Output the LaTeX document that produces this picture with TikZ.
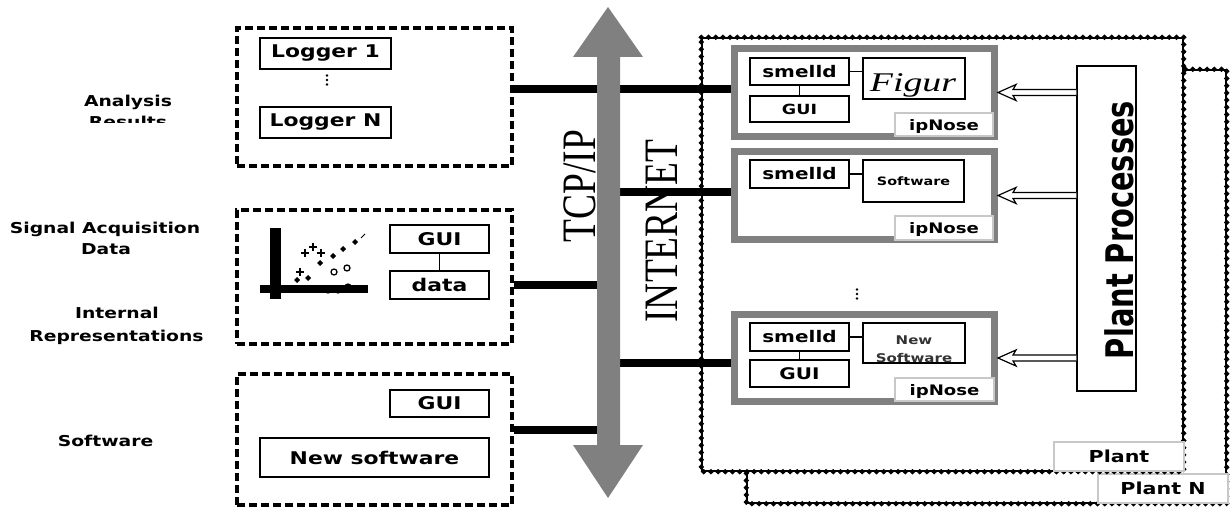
\documentclass[tikz,border=0pt]{standalone}
\usepackage{fontspec}
\usetikzlibrary{calc,decorations.markings}
\newfontfamily\lf[FakeStretch=1.25]{DejaVu Sans}
\newfontfamily\ppf[FakeStretch=0.76]{DejaVu Sans}
\newfontfamily\tnr[FakeStretch=0.78]{Liberation Serif}
\newfontfamily\figf[FakeStretch=1.4]{Liberation Serif}
\definecolor{ngrey}{RGB}{128,128,128}
\definecolor{lgrey}{RGB}{200,200,200}
\begin{document}
\begin{tikzpicture}[x=1pt,y=-1pt,
  lab/.style={font=\lf\bfseries\fontsize{15}{17}\selectfont, inner sep=0, anchor=base},
  group/.style={draw, line width=4pt, dash pattern=on 8pt off 4pt, inner sep=0},
  box/.style={draw, line width=1.2pt, inner sep=0, font=\lf\bfseries\fontsize{17.5}{20}\selectfont},
  sbox/.style={draw, line width=1.2pt, inner sep=0, font=\lf\bfseries\fontsize{16}{18}\selectfont},
  nose/.style={draw=ngrey, line width=7pt, fill=white, inner sep=0, minimum width=260pt},
  tag/.style={draw=lgrey, line width=1.5pt, fill=white, inner sep=0, text depth=0pt},
  plantbox/.style={draw=black, line width=1.4pt, fill=white, inner sep=0},
  beadline/.style={decorate, decoration={markings,
      mark=between positions 0 and 1 step 7.2pt with
      {\fill[black] (-3,0) -- (0,-2.8) -- (3,0) -- (0,2.8) -- cycle;}}},
  conn/.style={line width=8pt},
  feedshape/.style={draw=black, line width=1.2pt, fill=white, line join=miter},
  link/.style={line width=1.2pt},
  dotr/.style={radius=1.4pt}
]
\useasboundingbox (0,0) rectangle (1231,510);

% ---------- left labels ----------
\node[lab] (anl) at (128,106.5) {Analysis};
\begin{scope}
\clip (0,0) rectangle (230,123);
\node[lab] (res) at (128,127.5) {Results};
\end{scope}
\node[lab] (sig) at (105,234) {Signal Acquisition};
\node[lab] (dat) at (106,255) {Data};
\node[lab] (int) at (117,319) {Internal};
\node[lab] (rep) at (116.5,342) {Representations};
\node[lab] (sof) at (105.5,446) {Software};

% ---------- left groups ----------
\node[group, minimum width=275pt, minimum height=138pt] (b1) at (374.5,97) {};
\node[group, minimum width=275pt, minimum height=134pt] (b2) at (374.5,277) {};
\node[group, minimum width=275pt, minimum height=131pt] (b3) at (374.5,439.5) {};

\node[box, minimum width=131pt, minimum height=31pt] (lg1) at (325.5,53.5) {Logger 1};
\node[box, minimum width=131pt, minimum height=31pt] (lgN) at (325.5,122.5) {Logger N};
\coordinate (dl) at (327,80);
\foreach \d in {-4.5,0,4.5} \fill[dotr] ($(dl)+(0,\d)$) circle;

\node[box, minimum width=99pt, minimum height=28pt] (gui2) at (439.5,239) {GUI};
\node[box, minimum width=99pt, minimum height=28pt] (data2) at (439.5,285) {data};
\draw[link] (gui2) -- (data2);

% scatter plot
\fill (270,228) rectangle (281,299);
\fill (260,285) rectangle (368,293);
\foreach \p in {(305,253),(313,247),(321,253),(300,272)}
  \draw[line width=2pt] \p ++(-4,0) -- ++(8,0) \p ++(0,-4) -- ++(0,8);
\foreach \p in {(297,280),(308,278),(320,263),(333,256),(343,249),(355,242)}
  \fill \p ++(-3,0) -- ++(3,-3) -- ++(3,3) -- ++(-3,3) -- cycle;
\foreach \p in {(334,272),(347,268),(328,290),(338,290),(348,287)}
  \draw[line width=1.3pt] \p circle (3);
\draw[line width=1pt] (361,238) -- (365,234);

\node[box, minimum width=99pt, minimum height=27pt] (gui3) at (439.5,403.5) {GUI};
\node[box, minimum width=229pt, minimum height=39pt] (newsw) at (374.5,457.5) {New software};

% ---------- plants ----------
\node[plantbox, minimum width=479pt, minimum height=433pt] (plantN) at (986.5,286.5) {};
\path[beadline] (plantN.north west) -- (plantN.north east) -- (plantN.south east) -- (plantN.south west) -- cycle;
\node[tag, minimum width=130pt, minimum height=29pt, font=\lf\bfseries\fontsize{16.5}{18}\selectfont] (plantNl) at (1163,488.5) {Plant N};
\node[plantbox, minimum width=481pt, minimum height=433pt] (plant) at (942.5,254.5) {};
\path[beadline] (plant.north west) -- (plant.north east) -- (plant.south east) -- (plant.south west) -- cycle;
\node[tag, minimum width=130pt, minimum height=29pt, font=\lf\bfseries\fontsize{16.5}{18}\selectfont] (plantl) at (1119,456.5) {Plant};

\node[draw, line width=1.2pt, inner sep=0, minimum width=59pt, minimum height=325pt] (pp) at (1106.5,228.5) {};
\node[rotate=90, anchor=base, inner sep=0, font=\ppf\bfseries\fontsize{38}{40}\selectfont] (ppt) at (1133,230) {Plant Processes};

% ---------- ipNose 1 ----------
\node[nose, minimum height=88pt] (n1) at (864.5,92.5) {};
\node[sbox, minimum width=99pt, minimum height=27pt] (sm1) at (799.5,71.5) {smelld};
\node[sbox, minimum width=99pt, minimum height=26pt, font=\lf\bfseries\fontsize{14}{16}\selectfont] (g1) at (799.5,109) {GUI};
\node[draw, line width=1.2pt, inner sep=0, minimum width=102pt, minimum height=41pt] (fig1) at (914,78.5) {};
\node[inner sep=0, anchor=base, font=\figf\itshape\fontsize{27}{28}\selectfont] (figt) at (913,92) {Figur};
\node[tag, minimum width=98pt, minimum height=23pt, font=\lf\bfseries\fontsize{14.5}{16}\selectfont] (t1) at (944,124.5) {ipNose};
\draw[link] (sm1) -- (g1);
\draw[link] (sm1.east) -- (fig1.west |- sm1.east);

% ---------- ipNose 2 ----------
\node[nose, minimum height=88pt] (n2) at (864.5,195.5) {};
\node[sbox, minimum width=99pt, minimum height=28pt] (sm2) at (799.5,174) {smelld};
\node[draw, line width=1.2pt, inner sep=0, minimum width=101pt, minimum height=42pt, font=\lf\bfseries\fontsize{11.5}{13}\selectfont] (sw2) at (913.5,181) {Software};
\node[tag, minimum width=98pt, minimum height=24pt, font=\lf\bfseries\fontsize{14.5}{16}\selectfont] (t2) at (944,228) {ipNose};
\draw[link] (sm2.east) -- (sw2.west |- sm2.east);

\coordinate (dr) at (857,294);
\foreach \d in {-4.5,0,4.5} \fill[dotr] ($(dr)+(0,\d)$) circle;

% ---------- ipNose 3 ----------
\node[nose, minimum height=87pt] (n3) at (864.5,358) {};
\node[sbox, minimum width=99pt, minimum height=28pt] (sm3) at (799.5,337) {smelld};
\node[sbox, minimum width=99pt, minimum height=27pt] (g3) at (799.5,373.5) {GUI};
\node[draw, line width=1.2pt, inner sep=0, minimum width=102pt, minimum height=40pt] (nsw3) at (914,343) {};
\node[inner sep=0, anchor=north, align=center, font=\lf\bfseries\fontsize{12}{18}\selectfont, text=black!80] (nsw3t) at (914,336) {New\\Software};
\node[tag, minimum width=99pt, minimum height=23pt, font=\lf\bfseries\fontsize{14.5}{16}\selectfont] (t3) at (944.5,389.5) {ipNose};
\draw[link] (sm3) -- (g3);
\draw[link] (sm3.east) -- (nsw3.west |- sm3.east);

% ---------- feeds from plant processes (hollow arrows) ----------
\foreach \n in {n1,n2,n3} {
  \draw[feedshape] (pp.west |- \n.east) ++(0,-3) -- ($(\n.east)+(15,-3)$)
    -- ($(\n.east)+(18,-8)$) -- (\n.east) -- ($(\n.east)+(18,8)$)
    -- ($(\n.east)+(15,3)$) -- ($(pp.west |- \n.east)+(0,3)$);
}

% ---------- bus connections ----------
\coordinate (bus) at (608,252);
\coordinate (y1) at (0,89);
\coordinate (y2) at (0,285);
\coordinate (y3) at (0,430);
\coordinate (y4) at (0,192);
\coordinate (y5) at (0,363);
\draw[conn] (b1.east |- y1) -- (n1.west |- y1);
\draw[conn] (b2.east |- y2) -- (bus |- y2);
\draw[conn] (b3.east |- y3) -- (bus |- y3);
\draw[conn] (bus |- y4) -- (n2.west |- y4);
\draw[conn] (bus |- y5) -- (n3.west |- y5);

% ---------- TCP/IP arrow ----------
\fill[ngrey] (608,7) -- (643,57) -- (620,57) -- (620,445) -- (643,445) -- (608,498)
  -- (573,445) -- (597,445) -- (597,57) -- (573,57) -- cycle;
\node[rotate=90, anchor=base, inner sep=0, font=\tnr\fontsize{48}{50}\selectfont] (tcp) at (595,186) {TCP/IP};
\node[rotate=90, anchor=base, inner sep=0, font=\tnr\fontsize{48}{50}\selectfont] (inet) at (677,231) {INTERNET};
\end{tikzpicture}
\end{document}
